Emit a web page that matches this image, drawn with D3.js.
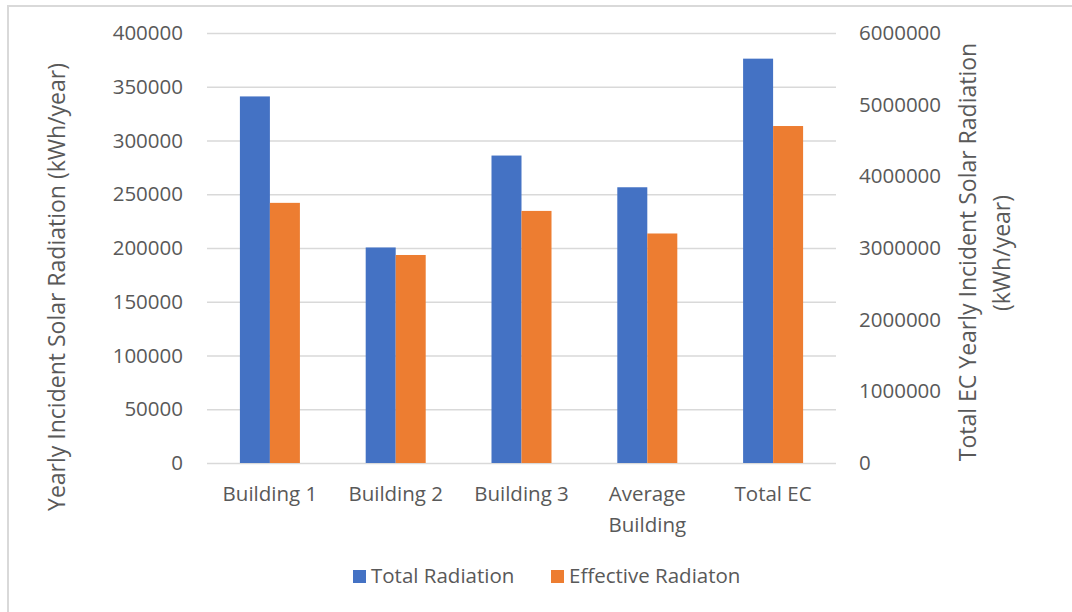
<!DOCTYPE html>
<html>
<head>
<meta charset="utf-8">
<script src="https://cdn.jsdelivr.net/npm/d3@7/dist/d3.min.js"></script>
<style>
    body { margin: 0; background: #fff; }
    text { font-family: "Open Sans", sans-serif; fill: #595959; }
</style>
</head>
<body>
<div id="chart-area"></div>
<script>
// data
var categories = ["Building 1", "Building 2", "Building 3", "Average Building", "Total EC"];
var seriesNames = ["Total Radiation", "Effective Radiaton"];
// first four categories are on the left axis
var totalRadiation = [341000, 200500, 286000, 256500];
var effectiveRadiation = [242000, 193500, 234500, 213500];
// "Total EC" is on the right axis
var totalEC = [5642000, 4702000];
var leftTicks = [0, 50000, 100000, 150000, 200000, 250000, 300000, 350000, 400000];
var rightTicks = [0, 1000000, 2000000, 3000000, 4000000, 5000000, 6000000];

var colors = ["#4472C4", "#ED7D31"];

var margin = { left: 207, right: 236, top: 33, bottom: 149 };
var W = 1072, H = 612;
var width = W - margin.left - margin.right;
var height = H - margin.top - margin.bottom;

var rows = categories.map(function(c, i) {
    if (i < totalRadiation.length) {
        return { cat: c, axis: "left", values: [totalRadiation[i], effectiveRadiation[i]] };
    }
    return { cat: c, axis: "right", values: totalEC };
});

var svg = d3.select("#chart-area").append("svg")
    .attr("width", W)
    .attr("height", H);

// chart frame
svg.append("rect")
    .attr("x", 8).attr("y", 6)
    .attr("width", W + 20).attr("height", H + 20)
    .attr("fill", "none")
    .attr("stroke", "#d9d9d9")
    .attr("stroke-width", 2);

var g = svg.append("g")
    .attr("transform", "translate(" + margin.left + ", " + margin.top + ")");

var x = d3.scaleBand().domain(categories).range([0, width])
    .paddingInner(0.523).paddingOuter(0.2615);
var x1 = d3.scaleBand().domain([0, 1]).range([0, x.bandwidth()]);
var yL = d3.scaleLinear().domain([0, 400000]).range([height, 0]);
var yR = d3.scaleLinear().domain([0, 6000000]).range([height, 0]);

// left axis + gridlines
var yAxisL = g.append("g")
    .call(d3.axisLeft(yL).tickValues(leftTicks).tickSize(-width).tickPadding(24).tickFormat(d3.format("d")));
yAxisL.select(".domain").remove();
yAxisL.selectAll(".tick line").attr("stroke", "#d9d9d9").attr("stroke-width", 1.5);
yAxisL.selectAll(".tick text").style("font-size", "20.5px").attr("fill", "#595959");

// right axis
var yAxisR = g.append("g")
    .attr("transform", "translate(" + width + ", 0)")
    .call(d3.axisRight(yR).tickValues(rightTicks).tickSize(0).tickPadding(23).tickFormat(d3.format("d")));
yAxisR.select(".domain").remove();
yAxisR.selectAll(".tick text").style("font-size", "20.5px").attr("fill", "#595959");

// x axis labels
var xAxis = g.append("g")
    .attr("transform", "translate(0, " + height + ")")
    .call(d3.axisBottom(x).tickSize(0).tickPadding(23));
xAxis.select(".domain").remove();
xAxis.selectAll(".tick text")
    .style("font-size", "20.5px")
    .attr("fill", "#595959")
    .call(wrap, x.step() * 0.9);

// bars
var groups = g.selectAll(".group").data(rows).enter().append("g")
    .attr("class", "group")
    .attr("transform", function(d) { return "translate(" + x(d.cat) + ", 0)"; });

groups.selectAll("rect")
    .data(function(d) {
        var s = d.axis === "left" ? yL : yR;
        return d.values.map(function(v, i) { return { i: i, v: v, s: s }; });
    })
    .enter().append("rect")
    .attr("x", function(d) { return x1(d.i); })
    .attr("width", x1.bandwidth())
    .attr("y", function(d) { return d.s(d.v); })
    .attr("height", function(d) { return height - d.s(d.v); })
    .attr("fill", function(d) { return colors[d.i]; });

// axis titles
svg.append("text")
    .attr("transform", "translate(57, 287) rotate(-90)")
    .attr("text-anchor", "middle")
    .attr("dy", "0.35em")
    .style("font-size", "23px")
    .text("Yearly Incident Solar Radiation (kWh/year)");

svg.append("text")
    .attr("transform", "translate(968, 252) rotate(-90)")
    .attr("text-anchor", "middle")
    .attr("dy", "0.35em")
    .style("font-size", "23px")
    .text("Total EC Yearly Incident Solar Radiation");

svg.append("text")
    .attr("transform", "translate(1002, 253) rotate(-90)")
    .attr("text-anchor", "middle")
    .attr("dy", "0.35em")
    .style("font-size", "23px")
    .text("(kWh/year)");

// legend
var legendX = [353, 551];
var legend = svg.selectAll(".legend").data(seriesNames).enter().append("g")
    .attr("class", "legend")
    .attr("transform", function(d, i) { return "translate(" + legendX[i] + ", 570)"; });

legend.append("rect")
    .attr("width", 13).attr("height", 13)
    .attr("fill", function(d, i) { return colors[i]; });

legend.append("text")
    .attr("x", 18)
    .attr("y", 13)
    .style("font-size", "20.5px")
    .text(function(d) { return d; });

function wrap(text, w) {
    text.each(function() {
        var t = d3.select(this);
        var words = t.text().split(/\s+/);
        var y = t.attr("y");
        var line = [];
        t.text(null);
        var tspan = t.append("tspan").attr("x", 0).attr("y", y).attr("dy", "0.71em");
        words.forEach(function(word) {
            line.push(word);
            tspan.text(line.join(" "));
            if (tspan.node().getComputedTextLength() > w && line.length > 1) {
                line.pop();
                tspan.text(line.join(" "));
                line = [word];
                tspan = t.append("tspan").attr("x", 0).attr("y", y)
                    .attr("dy", (0.71 * 20.5 + 31) + "px").text(word);
            }
        });
    });
}
</script>
</body>
</html>
